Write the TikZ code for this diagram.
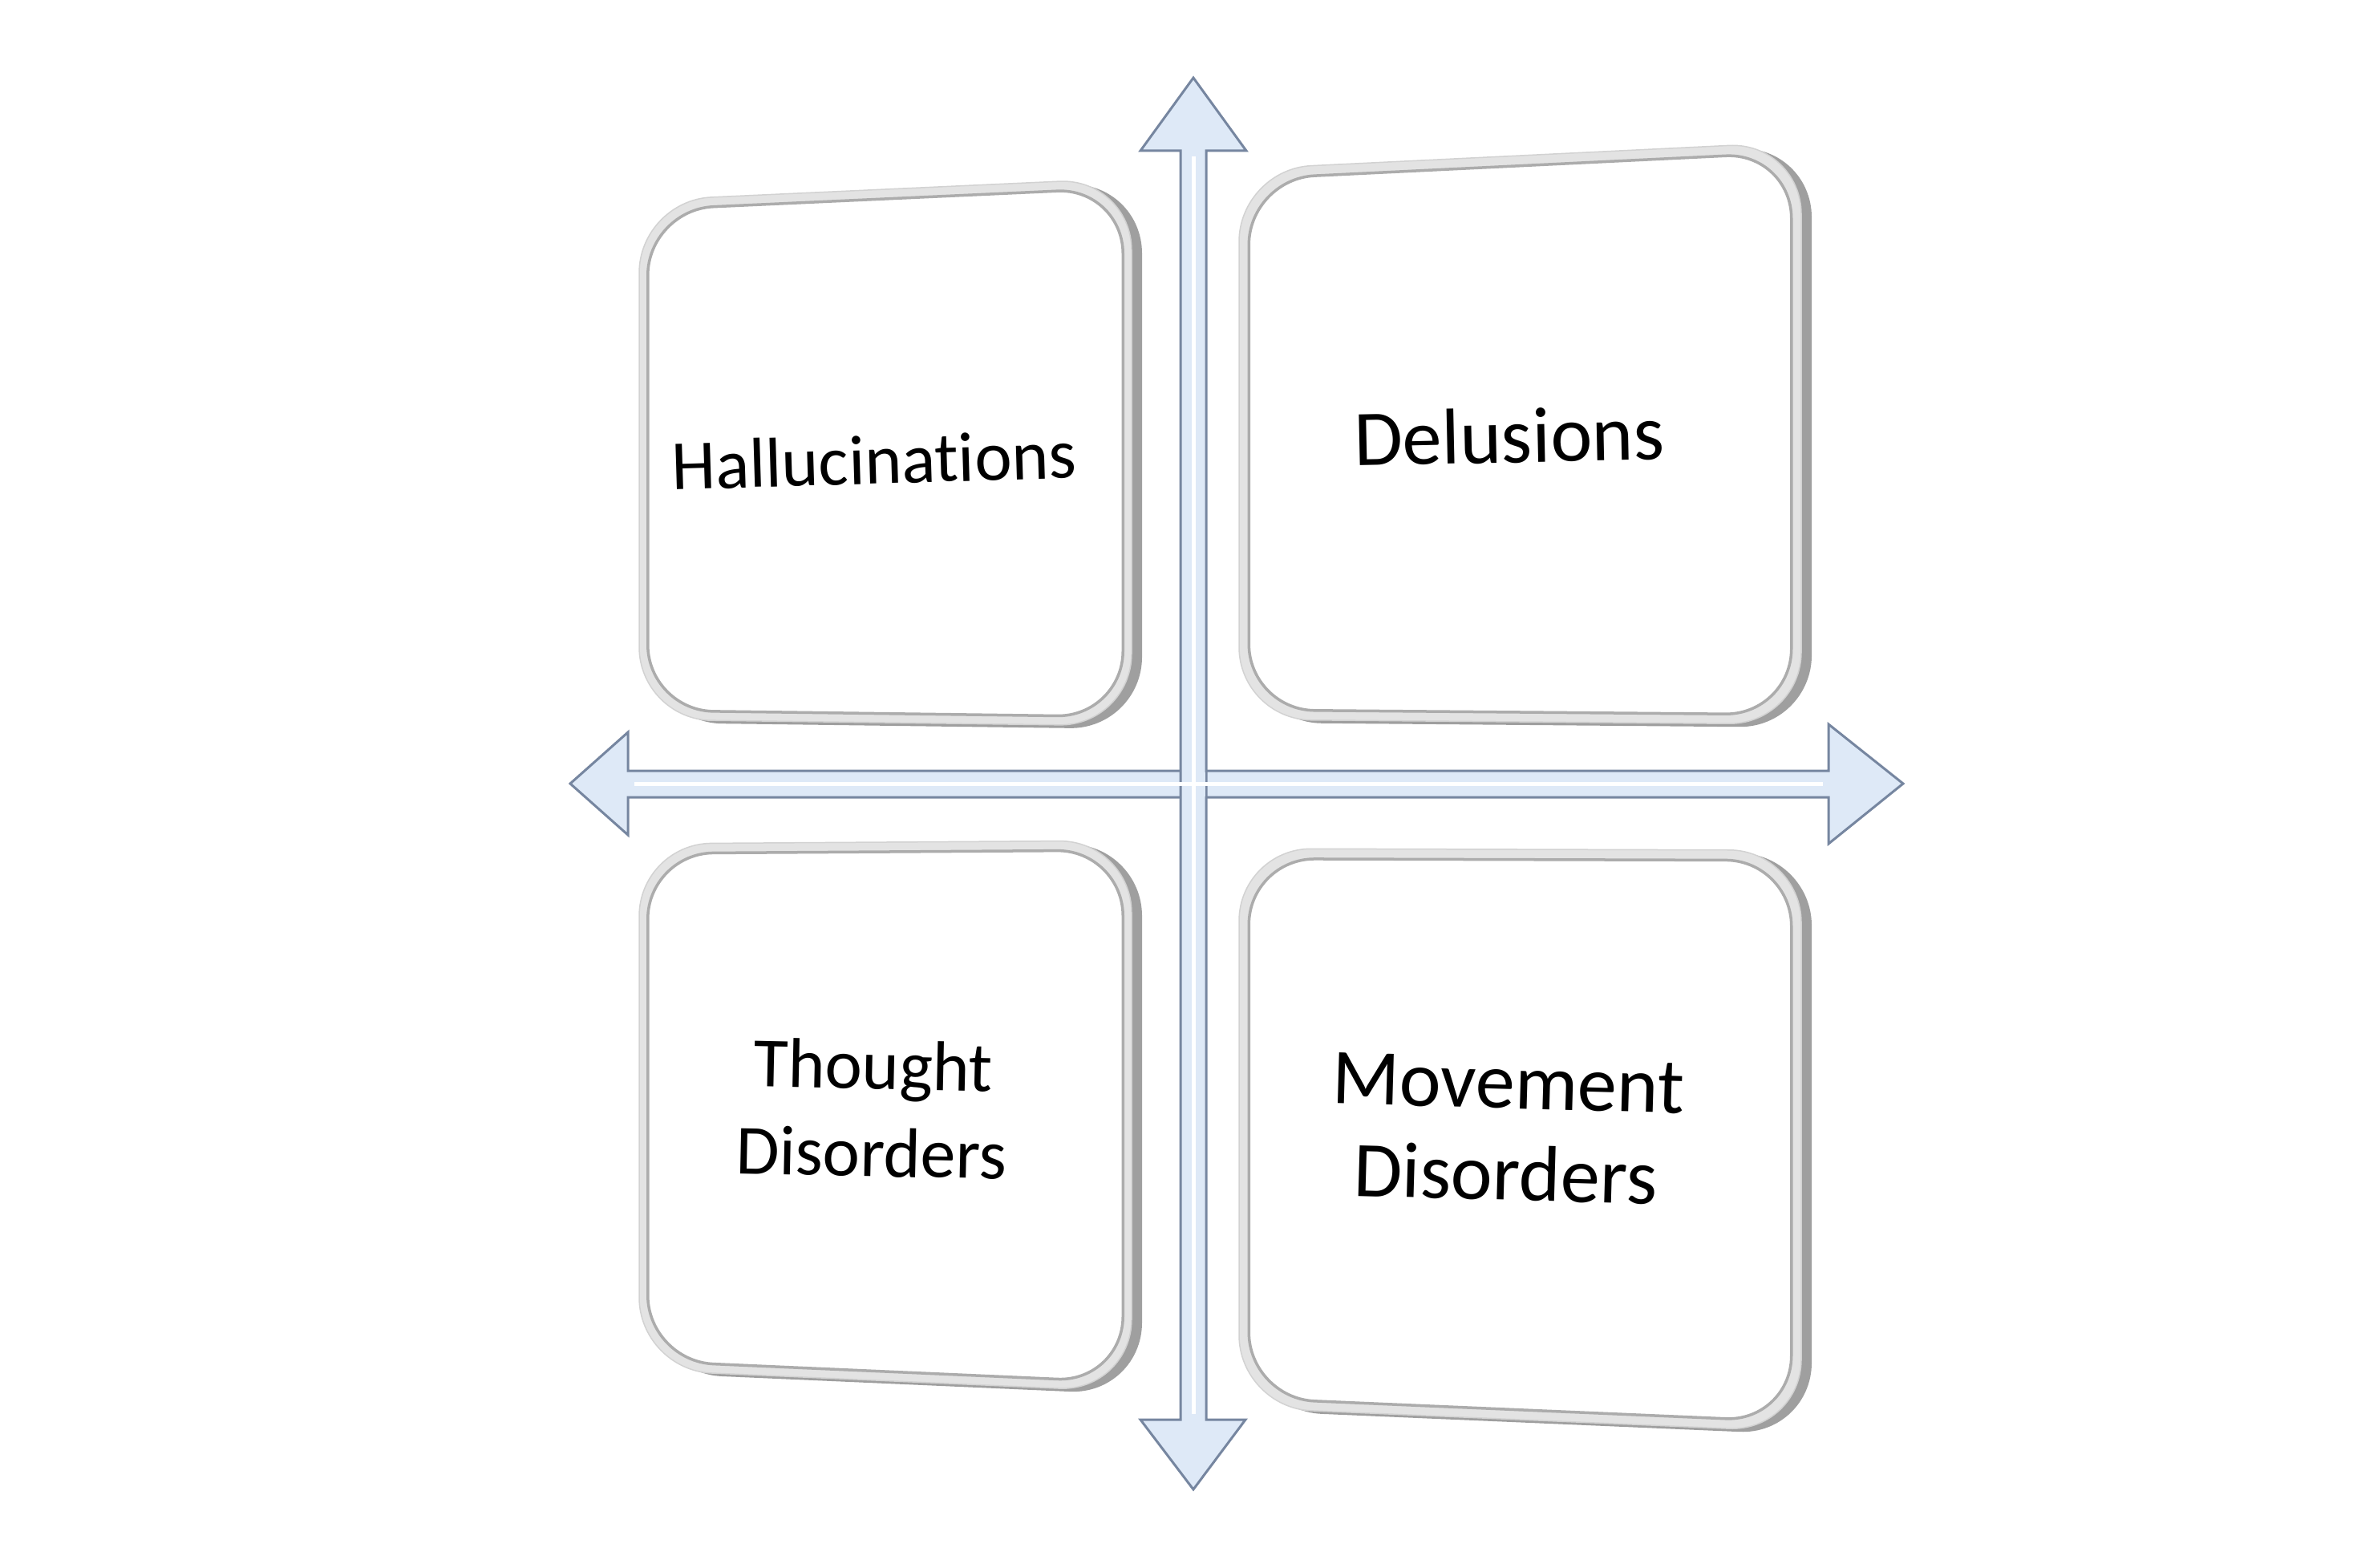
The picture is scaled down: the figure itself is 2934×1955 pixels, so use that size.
\documentclass[tikz,border=0pt]{standalone}
\usepackage{fontspec}
\setmainfont{Carlito}[Ligatures=NoCommon]
\usetikzlibrary{calc}

\definecolor{axisfill}{RGB}{222,233,247}
\definecolor{axisline}{RGB}{118,134,160}

% a four-cornered outline, started half way along its top side
\newcommand{\quadpath}[4]{($#1!0.5!#2$) -- #2 -- #3 -- #4 -- #1 -- cycle}
\newcommand{\bevelbox}[4]{%
  \fill[boxshadow] \quadpath{#1}{#2}{#3}{#4};
  \filldraw[boxrim] \quadpath{#1}{#2}{#3}{#4};
  \filldraw[boxface, scale around={0.965:($#1!0.5!#3$)}] \quadpath{#1}{#2}{#3}{#4};
}

\begin{document}
\begin{tikzpicture}[x=0.01cm, y=-0.01cm,
  boxshadow/.style={fill=gray!75, xshift=0.13cm, yshift=-0.04cm, rounded corners=0.9cm},
  boxrim/.style={fill=gray!22, draw=gray!35, line width=0.015cm, rounded corners=0.9cm},
  boxface/.style={fill=white, draw=gray!65, line width=0.035cm, rounded corners=0.82cm},
  axis/.style={fill=axisfill, draw=axisline, line width=0.03cm, line join=miter},
  shine/.style={white, line width=0.05cm},
  lefttext/.style={font=\fontsize{25}{31}\selectfont, align=center, inner sep=0pt},
  righttext/.style={font=\fontsize{28}{32.5}\selectfont, align=center, inner sep=0pt}]

\useasboundingbox (0,0) rectangle (2934,1955);

% boxes
\bevelbox{(797,250)}{(1411,222)}{(1411,905)}{(797,897)}
\bevelbox{(1545,211)}{(2246,177)}{(2246,903)}{(1545,897)}
\bevelbox{(797,1052)}{(1411,1048)}{(1411,1735)}{(797,1708)}
\bevelbox{(1545,1058)}{(2246,1060)}{(2246,1785)}{(1545,1755)}

% axes
\coordinate (west) at (711,977);
\coordinate (east) at (2373,977);
\coordinate (north) at (1488,97);
\coordinate (south) at (1488,1857);
\filldraw[axis] (west) -- ++(72,-64) -- ++(0,48) -- ++(1497,0) -- ++(0,-58)
  -- (east) -- ++(-93,75) -- ++(0,-58) -- ++(-1497,0) -- ++(0,47) -- cycle;
\filldraw[axis] (north) -- ++(66,91) -- ++(-50,0) -- ++(0,1582) -- ++(49,0)
  -- (south) -- ++(-66,-87) -- ++(50,0) -- ++(0,-1582) -- ++(-50,0) -- cycle;
\fill[axisfill] (1473.5,962.5) rectangle (1502.5,992.5);
\draw[shine] ($(west)+(80,0)$) -- ($(east)+(-100,0)$);
\draw[shine] ($(north)+(0,98)$) -- ($(south)+(0,-94)$);

% labels
\node[lefttext, rotate=1.7] (hal) at (1090,573) {Hallucinations};
\node[righttext, rotate=1.2] (del) at (1882,543) {Delusions};
\node[lefttext, rotate=-1.2] (tho) at (1088,1382) {Thought\\Disorders};
\node[righttext, rotate=-1.6] (mov) at (1879,1408) {Movement\\Disorders};
\end{tikzpicture}
\end{document}
